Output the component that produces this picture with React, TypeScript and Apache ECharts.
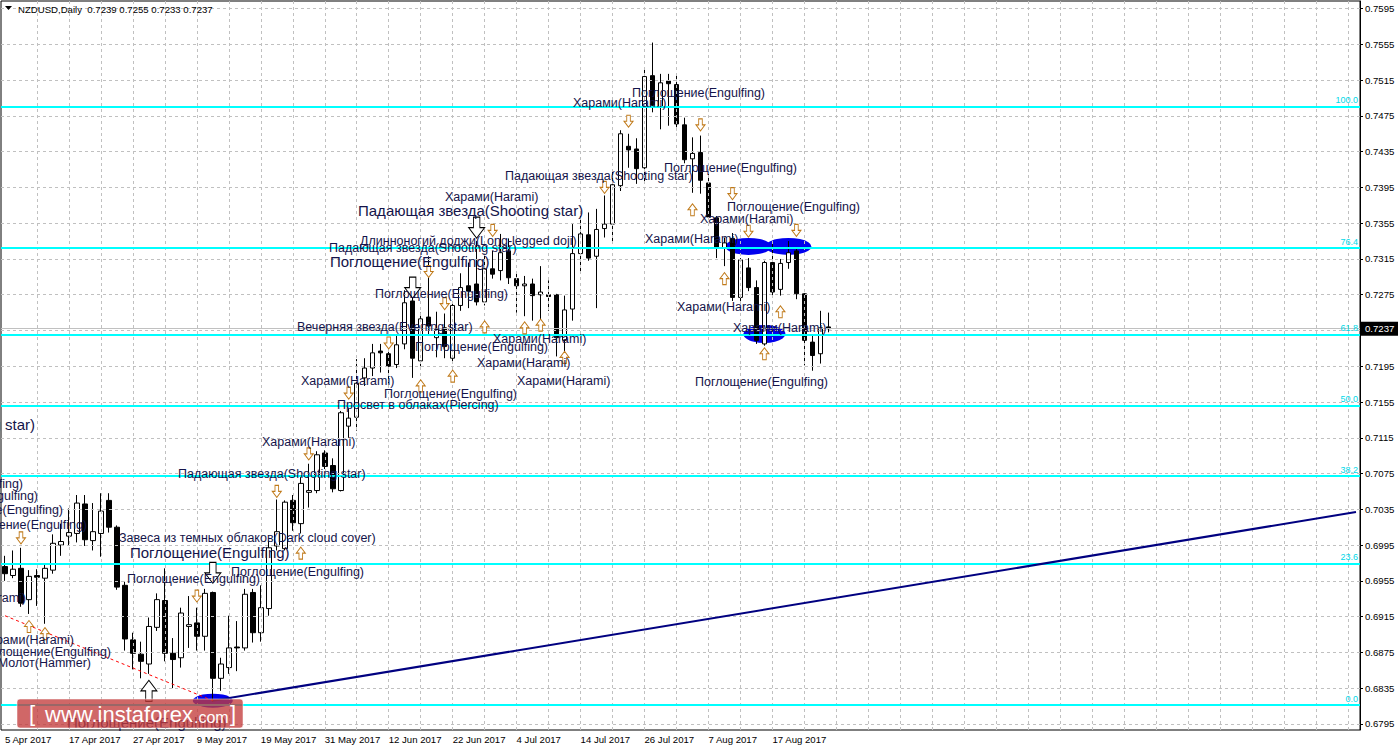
import React, { useEffect, useRef } from "react";
import * as echarts from "echarts";

const instrument = "NZDUSD,Daily";
const lastQuote = ["0.7239", "0.7255", "0.7233", "0.7237"];
const bidPrice = 0.7237;
const totalSlots = 170;

// [open, close, low, high] per daily bar, from 5 Apr 2017
const candles: number[][] = [
  [0.6971, 0.6963, 0.6955, 0.6983], [0.6961, 0.6968, 0.6958, 0.6989], [0.6969, 0.693, 0.6926, 0.6992], [0.6934, 0.696, 0.6918, 0.6967],
  [0.6961, 0.6959, 0.6927, 0.6968], [0.6958, 0.6969, 0.6907, 0.6974], [0.6967, 0.6997, 0.6963, 0.7007], [0.6995, 0.6999, 0.6983, 0.7019],
  [0.7005, 0.7009, 0.6994, 0.7036], [0.7008, 0.7042, 0.6998, 0.7051], [0.7041, 0.7001, 0.6994, 0.7051], [0.7, 0.701, 0.6989, 0.7042],
  [0.7008, 0.7033, 0.6982, 0.7053], [0.7045, 0.7015, 0.7009, 0.7053], [0.7015, 0.6948, 0.6945, 0.7017], [0.695, 0.689, 0.6877, 0.6954],
  [0.6889, 0.6874, 0.6856, 0.6897], [0.6873, 0.6865, 0.6846, 0.6887], [0.6862, 0.6904, 0.6851, 0.6914], [0.6903, 0.6934, 0.6899, 0.6941],
  [0.6933, 0.6874, 0.6865, 0.6969], [0.6874, 0.6867, 0.6835, 0.6891], [0.6869, 0.6919, 0.6858, 0.6925], [0.6904, 0.6906, 0.688, 0.6938],
  [0.6908, 0.6893, 0.6877, 0.6925], [0.6893, 0.6941, 0.6877, 0.6946], [0.6942, 0.6846, 0.682, 0.6943], [0.6846, 0.6862, 0.6832, 0.6869],
  [0.6858, 0.688, 0.6851, 0.6916], [0.6881, 0.688, 0.6854, 0.691], [0.688, 0.694, 0.6877, 0.6946], [0.6942, 0.6897, 0.6886, 0.6946],
  [0.6897, 0.6925, 0.6887, 0.695], [0.6924, 0.6992, 0.6916, 0.7], [0.6994, 0.701, 0.6989, 0.7046], [0.6991, 0.7043, 0.6989, 0.7045],
  [0.7045, 0.702, 0.7011, 0.7051], [0.7019, 0.7064, 0.7008, 0.7071], [0.7054, 0.7056, 0.7037, 0.7086], [0.7056, 0.7096, 0.7053, 0.71],
  [0.7098, 0.7083, 0.708, 0.7101], [0.7084, 0.7058, 0.7054, 0.7092], [0.7056, 0.7143, 0.7055, 0.7145], [0.7128, 0.7137, 0.7115, 0.7148],
  [0.7138, 0.7176, 0.7123, 0.7203], [0.7182, 0.7193, 0.7173, 0.7204], [0.7193, 0.721, 0.7184, 0.722], [0.7212, 0.721, 0.7188, 0.722],
  [0.7209, 0.7195, 0.7176, 0.7216], [0.7197, 0.7219, 0.7193, 0.7229], [0.722, 0.7266, 0.7214, 0.728], [0.7268, 0.7204, 0.7182, 0.7294],
  [0.7201, 0.7248, 0.7195, 0.7255], [0.725, 0.724, 0.7229, 0.7318], [0.7227, 0.7236, 0.7205, 0.7256], [0.7238, 0.7217, 0.7204, 0.7254],
  [0.7204, 0.7263, 0.7199, 0.7268], [0.7263, 0.7283, 0.7257, 0.7299], [0.7285, 0.7279, 0.726, 0.7311], [0.7287, 0.7267, 0.7263, 0.7335],
  [0.7267, 0.7304, 0.7263, 0.7321], [0.7304, 0.7298, 0.7293, 0.7324], [0.7302, 0.7322, 0.7291, 0.7343], [0.7324, 0.7294, 0.7287, 0.7338],
  [0.7293, 0.7285, 0.7255, 0.7299], [0.7285, 0.7287, 0.7251, 0.7296], [0.7287, 0.7274, 0.7246, 0.7293], [0.7275, 0.7278, 0.7246, 0.7307],
  [0.7275, 0.7273, 0.7257, 0.7291], [0.7275, 0.7227, 0.7206, 0.7276], [0.7224, 0.7258, 0.7212, 0.7274], [0.7259, 0.7321, 0.7246, 0.7354],
  [0.7321, 0.7343, 0.7299, 0.7363], [0.7342, 0.7316, 0.7313, 0.7367], [0.7318, 0.7348, 0.726, 0.7371], [0.7349, 0.7354, 0.7339, 0.7386],
  [0.7354, 0.7398, 0.7332, 0.7414], [0.7397, 0.7455, 0.7391, 0.7459], [0.7441, 0.7437, 0.7417, 0.7455], [0.7438, 0.7416, 0.7399, 0.745],
  [0.7417, 0.7519, 0.74, 0.7528], [0.752, 0.7487, 0.7479, 0.7557], [0.7485, 0.7512, 0.746, 0.7522], [0.7514, 0.7511, 0.7464, 0.7522],
  [0.751, 0.7466, 0.7459, 0.7522], [0.7465, 0.7426, 0.7422, 0.7473], [0.7427, 0.7433, 0.7389, 0.7451], [0.7434, 0.7403, 0.7388, 0.7453],
  [0.74, 0.7362, 0.736, 0.741], [0.7361, 0.7327, 0.7316, 0.7363], [0.7327, 0.7333, 0.7307, 0.7339], [0.7338, 0.7272, 0.7268, 0.7344],
  [0.7272, 0.7314, 0.7268, 0.7316], [0.7305, 0.7283, 0.7279, 0.7316], [0.7283, 0.7224, 0.722, 0.7291], [0.722, 0.7311, 0.7218, 0.7313],
  [0.7311, 0.7278, 0.7274, 0.7335], [0.7281, 0.731, 0.7274, 0.7315], [0.7311, 0.7322, 0.7304, 0.7335], [0.7324, 0.7276, 0.727, 0.7328],
  [0.7276, 0.7224, 0.7196, 0.7277], [0.7222, 0.7207, 0.719, 0.7231], [0.7209, 0.7238, 0.7198, 0.7257], [0.7239, 0.7237, 0.7233, 0.7255],
];

const yTicks = [
  0.6795, 0.6835, 0.6875, 0.6915, 0.6955, 0.6995, 0.7035, 0.7075, 0.7115, 0.7155, 0.7195,
  0.7235, 0.7275, 0.7315, 0.7355, 0.7395, 0.7435, 0.7475, 0.7515, 0.7555, 0.7595,
];
const yMin = 0.67882;
const yMax = 0.76035;

const tickLabels = [
  "5 Apr 2017", "17 Apr 2017", "27 Apr 2017", "9 May 2017", "19 May 2017", "31 May 2017", "12 Jun 2017",
  "22 Jun 2017", "4 Jul 2017", "14 Jul 2017", "26 Jul 2017", "7 Aug 2017", "17 Aug 2017",
];

const fibLabels = ["0.0", "23.6", "38.2", "50.0", "61.8", "76.4", "100.0"];
const fibPrices = [0.6816, 0.6974, 0.7072, 0.7151, 0.723, 0.7327, 0.7485];

const trendLine = [[26, 0.6821], [169, 0.7032]];
const redDashLine = [[0, 0.6916], [26, 0.6821]];

// [bar index, price]
const arrowsDown = [
  [2, 0.7003], [24, 0.6938], [34, 0.7055], [38, 0.7097], [43, 0.7165], [48, 0.7221], [53, 0.7301], [55, 0.7265],
  [61, 0.7347], [75, 0.7395], [78, 0.7469], [87, 0.7465], [91, 0.7388], [93, 0.7346], [99, 0.7347],
];
const bigArrowsDown = [[26, 0.6964], [51, 0.7283], [59, 0.735]];
const arrowsUp = [
  [3, 0.6904], [5, 0.6896], [37, 0.6986], [52, 0.7173], [56, 0.7184], [60, 0.7239], [65, 0.7238], [67, 0.7241],
  [70, 0.7205], [86, 0.737], [90, 0.7293], [95, 0.7209], [97, 0.7256],
];
const bigArrowsUp = [[18, 0.6832]];

// [bar index, price, width px, height px]
const ellipses = [[93, 0.7329, 46, 17], [98, 0.7329, 46, 17], [95, 0.7231, 42, 18], [26, 0.6821, 40, 14]];

const S = 12.5;
const L = 15;
// [text, x, y, size, align]
const patternTexts: [string, number, number, number, string][] = [
  ["Поглощение(Engulfing)", 632, 93, S, "left"],
  ["Харами(Harami)", 573, 103, S, "left"],
  ["Поглощение(Engulfing)", 664, 168, S, "left"],
  ["Падающая звезда(Shooting star)", 505, 176, S, "left"],
  ["Поглощение(Engulfing)", 727, 207, S, "left"],
  ["Харами(Harami)", 700, 219, S, "left"],
  ["Харами(Harami)", 645, 239, S, "left"],
  ["Харами(Harami)", 677, 307, S, "left"],
  ["Харами(Harami)", 733, 328, S, "left"],
  ["Поглощение(Engulfing)", 695, 382, S, "left"],
  ["Харами(Harami)", 445, 197, S, "left"],
  ["Падающая звезда(Shooting star)", 358, 210, L, "left"],
  ["Длинноногий доджи(Long-legged doji)", 360, 241, S, "left"],
  ["Падающая звезда(Shooting star)", 329, 248, S, "left"],
  ["Поглощение(Engulfing)", 330, 261, L, "left"],
  ["Поглощение(Engulfing)", 375, 294, S, "left"],
  ["Вечерняя звезда(Evening star)", 297, 327, S, "left"],
  ["Харами(Harami)", 493, 339, S, "left"],
  ["Поглощение(Engulfing)", 415, 347, S, "left"],
  ["Харами(Harami)", 477, 363, S, "left"],
  ["Харами(Harami)", 517, 381, S, "left"],
  ["Харами(Harami)", 301, 381, S, "left"],
  ["Поглощение(Engulfing)", 384, 394, S, "left"],
  ["Просвет в облаках(Piercing)", 337, 405, S, "left"],
  ["Харами(Harami)", 262, 442, S, "left"],
  ["Падающая звезда(Shooting star)", 178, 474, S, "left"],
  ["Завеса из темных облаков(Dark cloud cover)", 119, 538, S, "left"],
  ["Поглощение(Engulfing)", 130, 552, L, "left"],
  ["Поглощение(Engulfing)", 231, 572, S, "left"],
  ["Поглощение(Engulfing)", 127, 579, S, "left"],
  ["Поглощение(Engulfing)", 67, 722, L, "left"],
  ["Падающая звезда(Shooting star)", 35, 424, L, "right"],
  ["Поглощение(Engulfing)", 23, 484, S, "right"],
  ["Поглощение(Engulfing)", 38, 496, S, "right"],
  ["Поглощение(Engulfing)", 63, 510, S, "right"],
  ["Поглощение(Engulfing)", 87, 525, S, "right"],
  ["Харами(Harami)", 26, 598, S, "right"],
  ["Харами(Harami)", 74, 640, S, "right"],
  ["Поглощение(Engulfing)", 111, 652, S, "right"],
  ["Молот(Hammer)", 91, 663, S, "right"],
];

const FONT = "'Liberation Sans', Arial, sans-serif";
const TEXT_COLOR = "#14144a";
const DOWN_PATH = "path://M3,0L7,0L7,6L10,6L5,12L0,6L3,6Z";
const UP_PATH = "path://M3,12L7,12L7,6L10,6L5,0L0,6L3,6Z";

function buildCategories(): string[] {
  const out: string[] = [];
  const d = new Date(Date.UTC(2017, 3, 5));
  while (out.length < candles.length) {
    const wd = d.getUTCDay();
    if (wd !== 0 && wd !== 6) out.push(d.toISOString().slice(0, 10));
    d.setUTCDate(d.getUTCDate() + 1);
  }
  for (let i = out.length; i < totalSlots; i++) out.push("slot" + i);
  return out;
}

export default function App() {
  const ref = useRef<HTMLDivElement>(null);

  useEffect(() => {
    if (!ref.current) return;
    const chart = echarts.init(ref.current, null, { renderer: "svg" });
    const categories = buildCategories();
    const vertIdx: number[] = [];
    for (let i = 4; i < totalSlots; i += 4) vertIdx.push(i);

    const arrowSeries = (data: number[][], path: string, size: number[], border: string) => ({
      type: "scatter",
      z: 5,
      silent: true,
      symbol: path,
      symbolSize: size,
      itemStyle: { color: "#ffffff", borderColor: border, borderWidth: 1, opacity: 1 },
      data,
    });

    const option: any = {
      animation: false,
      backgroundColor: "#ffffff",
      grid: {
        left: 1, right: 38, top: 1, bottom: 20, show: true,
        borderColor: "#000", borderWidth: 1, backgroundColor: "#ffffff",
      },
      xAxis: {
        type: "category",
        data: categories,
        boundaryGap: true,
        axisLine: { show: false },
        axisTick: { show: false },
        splitLine: { show: false },
        axisLabel: {
          interval: (i: number) => i % 8 === 0 && i / 8 < tickLabels.length,
          formatter: (_v: string, i: number) => tickLabels[i / 8] ?? "",
          align: "left",
          color: "#000",
          fontSize: 9.6,
          fontFamily: FONT,
          margin: 4,
        },
      },
      yAxis: {
        type: "value",
        position: "right",
        min: yMin,
        max: yMax,
        axisLine: { show: true, lineStyle: { color: "#000" } },
        axisTick: { show: true, length: 3, customValues: yTicks, lineStyle: { color: "#000" } },
        axisLabel: {
          customValues: yTicks,
          formatter: (v: number) => v.toFixed(4),
          color: "#000",
          fontSize: 9.6,
          fontFamily: FONT,
          margin: 5,
        },
        splitLine: { show: false },
      },
      series: [
        {
          type: "line",
          data: [],
          z: 1,
          silent: true,
          markLine: {
            silent: true,
            precision: 6,
            symbol: ["none", "none"],
            label: { show: false },
            lineStyle: { color: "#c0c0c0", type: [3, 3], width: 1 },
            data: [
              ...yTicks.map((v) => ({ yAxis: v })),
              ...vertIdx.map((i) => ({ xAxis: i })),
            ],
          },
        },
        {
          type: "scatter",
          z: 2,
          silent: true,
          symbol: "circle",
          itemStyle: { color: "#0000ee", opacity: 1 },
          data: ellipses.map(([i, p, w, h]) => ({ value: [i, p], symbolSize: [w, h] })),
        },
        {
          type: "candlestick",
          z: 3,
          silent: true,
          barWidth: 5,
          data: candles,
          itemStyle: {
            color: "#ffffff", color0: "#000000",
            borderColor: "#000000", borderColor0: "#000000", borderColorDoji: "#000000",
            borderWidth: 1,
          },
        },
        {
          type: "line",
          data: [],
          z: 4,
          silent: true,
          markLine: {
            silent: true,
            precision: 6,
            symbol: ["none", "none"],
            label: { show: false },
            data: [
              { yAxis: bidPrice, lineStyle: { color: "#c0c0c0", width: 1, type: "solid" } },
              ...fibPrices.map((p, k) => ({
                yAxis: p,
                lineStyle: { color: "#00ffff", width: 2, type: "solid" },
                label: {
                  show: true, position: "insideEndTop", formatter: fibLabels[k],
                  color: "#00d8e8", fontSize: 9, fontFamily: FONT, distance: 2,
                },
              })),
              [
                { coord: trendLine[0], lineStyle: { color: "#000080", width: 2, type: "solid" } },
                { coord: trendLine[1] },
              ],
              [
                { coord: redDashLine[0], lineStyle: { color: "#ff0000", width: 1, type: [3, 3] } },
                { coord: redDashLine[1] },
              ],
            ],
          },
        },
        arrowSeries(arrowsDown, DOWN_PATH, [9, 12], "#c07a1a"),
        arrowSeries(arrowsUp, UP_PATH, [9, 12], "#c07a1a"),
        arrowSeries(bigArrowsDown, DOWN_PATH, [16, 21], "#000000"),
        arrowSeries(bigArrowsUp, UP_PATH, [16, 21], "#000000"),
      ],
    };
    chart.setOption(option);

    const bidY = chart.convertToPixel({ yAxisIndex: 0 }, bidPrice) as number;

    const graphics: any[] = [
      {
        type: "polygon", z: 60,
        shape: { points: [[5, 6], [12, 6], [8.5, 10]] },
        style: { fill: "#000" },
      },
      {
        type: "text", z: 60, x: 18, y: 9,
        style: {
          text: instrument + "  " + lastQuote.join(" "),
          fill: "#000", fontSize: 9.6, fontFamily: FONT, align: "left", verticalAlign: "middle",
        },
      },
      ...patternTexts.map(([t, x, y, size, align]) => ({
        type: "text", z: 50, x, y, silent: true,
        style: { text: t, fill: TEXT_COLOR, fontSize: size, fontFamily: FONT, align, verticalAlign: "middle" },
      })),
      {
        type: "rect", z: 70,
        shape: { x: 1361, y: bidY - 7, width: 37, height: 14 },
        style: { fill: "#000" },
      },
      {
        type: "text", z: 71, x: 1365, y: bidY,
        style: {
          text: bidPrice.toFixed(4), fill: "#fff", fontSize: 9.6, fontFamily: FONT,
          align: "left", verticalAlign: "middle",
        },
      },
      {
        type: "group", z: 100,
        children: [
          {
            type: "rect", z: 100,
            shape: { x: 17, y: 699, width: 226, height: 29, r: 3 },
            style: { fill: "rgba(195, 60, 60, 0.78)", stroke: "rgba(255,255,255,0.5)", lineWidth: 1 },
          },
          {
            type: "text", z: 101, x: 29, y: 713,
            style: { text: "[", fill: "#fff", fontSize: 22, fontFamily: FONT, align: "left", verticalAlign: "middle" },
          },
          {
            type: "text", z: 101, x: 45, y: 714,
            style: { text: "www.instaforex", fill: "#fff", fontSize: 22, fontFamily: FONT, align: "left", verticalAlign: "middle" },
          },
          {
            type: "text", z: 101, x: 194, y: 717,
            style: { text: ".com", fill: "#fff", fontSize: 16, fontFamily: FONT, align: "left", verticalAlign: "middle" },
          },
          {
            type: "text", z: 101, x: 230, y: 713,
            style: { text: "]", fill: "#fff", fontSize: 22, fontFamily: FONT, align: "left", verticalAlign: "middle" },
          },
        ],
      },
    ];
    chart.setOption({ graphic: graphics });

    return () => chart.dispose();
  }, []);

  return (
    <div
      ref={ref}
      style={{ position: "fixed", left: 0, top: 0, width: 1398, height: 750, background: "#fff" }}
    />
  );
}
